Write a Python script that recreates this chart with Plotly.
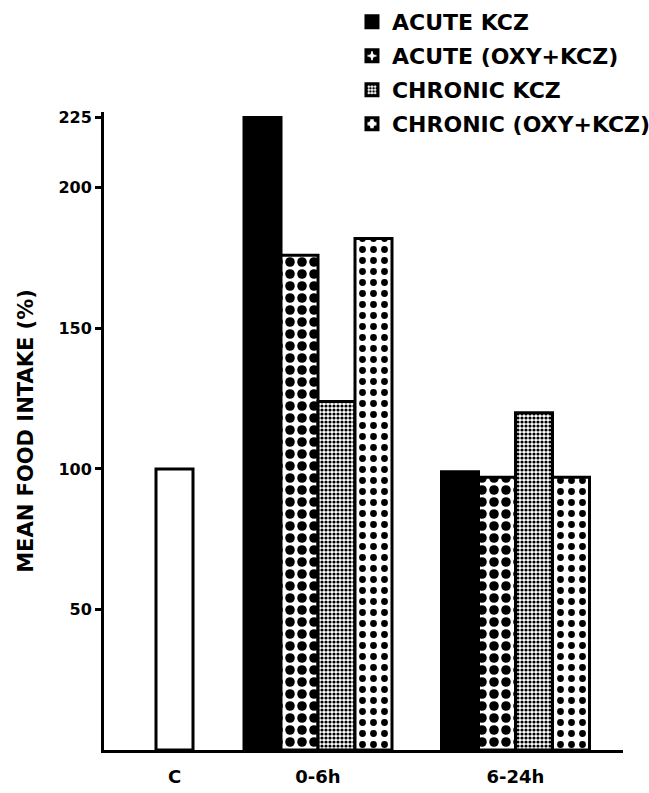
import plotly.graph_objects as go

# ---------------- data ----------------
categories = ["C", "0-6h", "6-24h"]
control_label = "CONTROL"
control_values = [100]                       # category "C"
treated_categories = ["0-6h", "6-24h"]
series_names = ["ACUTE KCZ", "ACUTE (OXY+KCZ)", "CHRONIC KCZ", "CHRONIC (OXY+KCZ)"]
acute_kcz = [225, 99]
acute_oxy_kcz = [176, 97]
chronic_kcz = [124, 120]
chronic_oxy_kcz = [182, 97]
y_tick_values = [50, 100, 150, 200, 225]
y_tick_labels = ["50", "100", "150", "200", "225"]
y_title = "MEAN FOOD INTAKE (%)"

# ---------------- layout / style ----------------
CAT_POS = {"C": 0.705, "0-6h": 2.14, "6-24h": 4.115}   # uneven category spacing of the original
BAR_W = 0.37
FONT = "DejaVu Sans"
LINE = dict(color="black", width=3)

styles = [
    dict(color="black", line=LINE),
    dict(color="white", line=LINE,
         pattern=dict(shape=".", fgcolor="black", bgcolor="white", size=12, solidity=0.5, fillmode="replace")),
    dict(color="white", line=LINE,
         pattern=dict(shape=".", fgcolor="black", bgcolor="white", size=4, solidity=0.5, fillmode="replace")),
    dict(color="white", line=LINE,
         pattern=dict(shape=".", fgcolor="black", bgcolor="white", size=11, solidity=0.3, fillmode="replace")),
]

fig = go.Figure()

fig.add_trace(go.Bar(
    name=control_label, x=[CAT_POS["C"]], y=control_values, width=BAR_W,
    marker=dict(color="white", line=LINE), showlegend=False, hoverinfo="skip",
))

series_values = [acute_kcz, acute_oxy_kcz, chronic_kcz, chronic_oxy_kcz]
for i, (name, vals, st) in enumerate(zip(series_names, series_values, styles)):
    fig.add_trace(go.Bar(
        name=name,
        legendgroup=f"g{i}",
        x=[CAT_POS[c] for c in treated_categories],
        y=vals,
        width=BAR_W,
        offset=-2 * BAR_W + i * BAR_W,
        marker=st,
        hoverinfo="skip",
    ))

fig.update_layout(
    width=649, height=793, autosize=False,
    margin=dict(l=104, r=26, t=112, b=43, autoexpand=False),
    paper_bgcolor="white", plot_bgcolor="white",
    barmode="overlay",
    font=dict(family=FONT, color="black", weight="bold"),
    showlegend=True,
    legend=dict(x=0.4778, y=1.174, xanchor="left", yanchor="top",
                font=dict(family=FONT, size=22, color="black", weight="bold"),
                tracegroupgap=2.4,
                bgcolor="rgba(0,0,0,0)", traceorder="grouped"),
    xaxis=dict(
        range=[0, 5.19], tickvals=[CAT_POS[c] for c in categories], ticktext=categories,
        ticks="", showline=True, linecolor="black", linewidth=3,
        showgrid=False, zeroline=False, ticklabelstandoff=8,
        tickfont=dict(family=FONT, size=18, color="black", weight="bold"),
    ),
    yaxis=dict(
        range=[0, 227], tickvals=y_tick_values, ticktext=y_tick_labels,
        ticks="outside", ticklen=6, tickwidth=2.5, tickcolor="black",
        showline=True, linecolor="black", linewidth=3,
        showgrid=False, zeroline=False,
        tickfont=dict(family=FONT, size=16, color="black", weight="bold"),
        title=dict(text=y_title, standoff=20,
                   font=dict(family=FONT, size=21, color="black", weight="bold")),
    ),
)

fig.write_html("out.html", config={"displayModeBar": False},
               post_script="document.body.style.margin='0px';")
